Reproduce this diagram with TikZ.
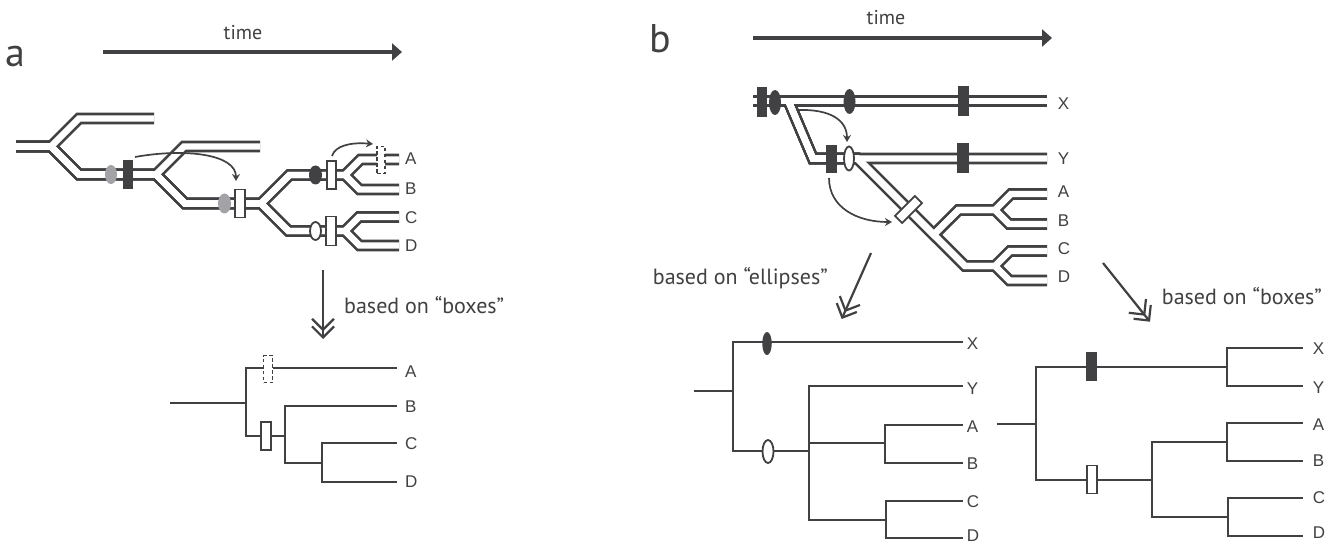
\documentclass[tikz,border=0pt]{standalone}
\usepackage{fontspec}
\setmainfont{PT Sans}
\newfontfamily\leaffont{Liberation Sans}
\usetikzlibrary{arrows.meta,shapes.geometric}
\definecolor{ink}{RGB}{65,65,67}
\definecolor{softgrey}{RGB}{163,163,167}

\begin{document}
\begin{tikzpicture}[x=1pt,y=-1pt,
  tubeout/.style={draw=ink,line width=11.8pt,line join=miter,line cap=butt},
  tubein/.style={draw=white,line width=6.4pt,line join=miter,line cap=butt},
  tree/.style={draw=ink,line width=2pt,line join=miter},
  timearrow/.style={draw=ink,line width=4pt,-{Triangle[length=10pt,width=17pt]}},
  maparrow/.style={draw=ink,line width=2.2pt,
    -{Straight Barb[length=11pt,width=22pt,sep=-6pt]Straight Barb[length=11pt,width=22pt]}},
  jump/.style={draw=ink,line width=1.7pt,-{Stealth[length=7pt,width=8pt]}},
  panelname/.style={text=ink,inner sep=0pt,font=\fontsize{40}{44}\selectfont},
  timetext/.style={text=ink,inner sep=0pt,font=\fontsize{20}{22}\selectfont,anchor=base},
  note/.style={text=ink,inner sep=0pt,font=\fontsize{22}{24}\selectfont,anchor=base west},
  leaf/.style={text=ink,inner sep=0pt,font=\leaffont\fontsize{17}{19}\selectfont,anchor=west},
  darkbox/.style={rectangle,fill=ink,inner sep=0pt},
  openbox/.style={rectangle,draw=ink,fill=white,line width=1.8pt,inner sep=0pt},
  lostbox/.style={rectangle,draw=ink,fill=white,line width=1.8pt,inner sep=0pt,dash pattern=on 3.5pt off 2.5pt},
  darkoval/.style={ellipse,fill=ink,inner sep=0pt},
  greyoval/.style={ellipse,fill=softgrey,inner sep=0pt},
  openoval/.style={ellipse,draw=ink,fill=white,line width=1.8pt,inner sep=0pt},
]
\useasboundingbox[fill=white] (0,0) rectangle (1338,545);

%=============== panel a ===============
\node[panelname,anchor=base west] (pa) at (5,67) {a};
\node[timetext] (timea) at (243,40) {time};
\coordinate (ta0) at (103,52);
\coordinate (ta1) at (402,52);
\draw[timearrow] (ta0) -- (ta1);

% gene lineages inside the species tubes
\coordinate (a0) at (16,146.5);
\coordinate (a1) at (51,146.5);
\coordinate (a1u) at (79,118.5);
\coordinate (a1e) at (154,118.5);
\coordinate (a1d) at (79,174.5);
\coordinate (a2) at (156,174.5);
\coordinate (a2u) at (184,146.5);
\coordinate (a2e) at (260,146.5);
\coordinate (a2d) at (185,203.5);
\coordinate (a3) at (261,203.5);
\coordinate (a3u) at (289.5,175);
\coordinate (a4) at (345,175);
\coordinate (a4u) at (360.5,159.5);
\coordinate (aA) at (399,159.5);
\coordinate (a4d) at (359.5,189.5);
\coordinate (aB) at (399,189.5);
\coordinate (a3d) at (288.5,231);
\coordinate (a5) at (345,231);
\coordinate (a5u) at (359,217);
\coordinate (aC) at (399,217);
\coordinate (a5d) at (359.5,245.5);
\coordinate (aD) at (399,245.5);

\foreach \s in {tubeout,tubein}{
  \draw[\s] (a0)--(a1)--(a1u)--(a1e);
  \draw[\s] (a0)--(a1)--(a1d)--(a2)--(a2u)--(a2e);
  \draw[\s] (a0)--(a1)--(a1d)--(a2)--(a2d)--(a3)--(a3u)--(a4)--(a4u)--(aA);
  \draw[\s] (a0)--(a1)--(a1d)--(a2)--(a2d)--(a3)--(a3u)--(a4)--(a4d)--(aB);
  \draw[\s] (a0)--(a1)--(a1d)--(a2)--(a2d)--(a3)--(a3d)--(a5)--(a5u)--(aC);
  \draw[\s] (a0)--(a1)--(a1d)--(a2)--(a2d)--(a3)--(a3d)--(a5)--(a5d)--(aD);
}

\node[greyoval,minimum width=12pt,minimum height=19pt] (ga1) at (111,174.5) {};
\node[darkbox,minimum width=10pt,minimum height=29pt] (da1) at (128,174.5) {};
\node[greyoval,minimum width=13pt,minimum height=20pt] (ga2) at (224.5,203.5) {};
\node[openbox,minimum width=10pt,minimum height=28pt] (wa1) at (240,203.5) {};
\node[darkoval,minimum width=13pt,minimum height=19pt] (da2) at (315.5,175) {};
\node[openbox,minimum width=9pt,minimum height=28pt] (wa2) at (331.5,175) {};
\node[lostbox,minimum width=8pt,minimum height=27pt] (xa1) at (381,160) {};
\node[openoval,minimum width=11pt,minimum height=18pt] (oa1) at (315.5,231) {};
\node[openbox,minimum width=10pt,minimum height=29pt] (wa3) at (331,231) {};

\coordinate (j1s) at (135,157);
\coordinate (j1e) at (236,181);
\draw[jump] (j1s) .. controls (185,148) and (236,154) .. (j1e);
\coordinate (j2s) at (332,156);
\coordinate (j2e) at (373,144);
\draw[jump] (j2s) .. controls (335,146) and (350,142) .. (j2e);

\node[leaf] (LaA) at (405,159) {A};
\node[leaf] (LaB) at (405,189) {B};
\node[leaf] (LaC) at (405,217.5) {C};
\node[leaf] (LaD) at (405,246) {D};

% summary arrow
\coordinate (ma0) at (323,270);
\coordinate (ma1) at (323,339);
\draw[maparrow] (ma0) -- (ma1);
\node[note] (na) at (344,313) {based on “boxes”};

% resulting tree
\coordinate (ar) at (170,402.7);
\coordinate (an1) at (246,402.7);
\coordinate (an2) at (285,436);
\coordinate (an3) at (322,463);
\coordinate (anA) at (397,368);
\coordinate (anB) at (397,406);
\coordinate (anC) at (397,443);
\coordinate (anD) at (397,482);
\draw[tree] (ar) -- (an1);
\draw[tree] (an1) |- (anA);
\draw[tree] (an1) |- (an2);
\draw[tree] (an2) |- (anB);
\draw[tree] (an2) |- (an3);
\draw[tree] (an3) |- (anC);
\draw[tree] (an3) |- (anD);
\node[lostbox,minimum width=9pt,minimum height=27pt] (xa2) at (268,369) {};
\node[openbox,minimum width=10pt,minimum height=28pt] (wa4) at (266,436) {};
\node[leaf] (LtA) at (405,372) {A};
\node[leaf] (LtB) at (405,407) {B};
\node[leaf] (LtC) at (405,444) {C};
\node[leaf] (LtD) at (405,481.5) {D};

%=============== panel b ===============
\node[panelname,anchor=base west] (pb) at (649,53) {b};
\node[timetext] (timeb) at (886,25) {time};
\coordinate (tb0) at (753,38);
\coordinate (tb1) at (1052,38);
\draw[timearrow] (tb0) -- (tb1);

\coordinate (b0) at (753,101.3);
\coordinate (bX) at (1047,101.3);
\coordinate (bs) at (788.6,101.3);
\coordinate (bsy) at (812.9,158.5);
\coordinate (bY) at (1047,158.5);
\coordinate (b1) at (857.5,158.5);
\coordinate (b2) at (933.7,234.7);
\coordinate (b2u) at (958.5,210);
\coordinate (b3) at (995,210);
\coordinate (b3u) at (1011,194);
\coordinate (bA) at (1047,194);
\coordinate (b3d) at (1009,224);
\coordinate (bB) at (1047,224);
\coordinate (b2d) at (965,266);
\coordinate (b4) at (995,266);
\coordinate (b4u) at (1010,251);
\coordinate (bC) at (1047,251);
\coordinate (b4d) at (1009.5,280.5);
\coordinate (bD) at (1047,280.5);

\foreach \s in {tubeout,tubein}{
  \draw[\s] (b0)--(bX);
  \draw[\s] (bs)--(bsy)--(bY);
  \draw[\s] (bs)--(bsy)--(b1)--(b2)--(b2u)--(b3)--(b3u)--(bA);
  \draw[\s] (bs)--(bsy)--(b1)--(b2)--(b2u)--(b3)--(b3d)--(bB);
  \draw[\s] (bs)--(bsy)--(b1)--(b2d)--(b4)--(b4u)--(bC);
  \draw[\s] (bs)--(bsy)--(b1)--(b2d)--(b4)--(b4d)--(bD);
}

\node[darkbox,minimum width=10pt,minimum height=30pt] (db1) at (762,102) {};
\node[darkoval,minimum width=12pt,minimum height=25pt] (eb1) at (775,102.5) {};
\node[darkoval,minimum width=12pt,minimum height=25pt] (eb2) at (849.5,101.5) {};
\node[darkbox,minimum width=11pt,minimum height=30pt] (db2) at (963,101.5) {};
\node[darkbox,minimum width=11pt,minimum height=28pt] (db3) at (831.5,159) {};
\node[openoval,minimum width=10pt,minimum height=24pt] (ob1) at (849,158.5) {};
\node[darkbox,minimum width=12pt,minimum height=30pt] (db4) at (963,158.5) {};
\node[openbox,rotate=-45,minimum width=10pt,minimum height=28pt] (wb1) at (908.5,209.5) {};

\coordinate (j3s) at (798,110);
\coordinate (j3e) at (847,142);
\draw[jump] (j3s) .. controls (830,109) and (847,120) .. (j3e);
\coordinate (j4s) at (829,178);
\coordinate (j4e) at (892,222);
\draw[jump] (j4s) .. controls (829,208) and (858,222) .. (j4e);

\node[leaf] (LbX) at (1057.7,103.7) {X};
\node[leaf] (LbY) at (1057.7,158.3) {Y};
\node[leaf] (LbA) at (1057.7,191.7) {A};
\node[leaf] (LbB) at (1057.7,221) {B};
\node[leaf] (LbC) at (1057.7,248.8) {C};
\node[leaf] (LbD) at (1057.7,276.7) {D};

% summary arrows
\coordinate (me0) at (871,253);
\coordinate (me1) at (841.7,319);
\draw[maparrow] (me0) -- (me1);
\node[note] (ne) at (652.7,284) {based on “ellipses”};
\coordinate (mb0) at (1103,263);
\coordinate (mb1) at (1150,321.7);
\draw[maparrow] (mb0) -- (mb1);
\node[note] (nb) at (1161.7,305) {based on “boxes”};

% tree from the ellipses
\coordinate (er) at (694,390.7);
\coordinate (en1) at (733.3,390.7);
\coordinate (en2) at (809.3,451);
\coordinate (en3) at (885,444);
\coordinate (en4) at (886,519.5);
\coordinate (eX) at (962.7,342.3);
\coordinate (eY) at (962.7,386);
\coordinate (eA) at (962.7,425);
\coordinate (eB) at (962.7,463.3);
\coordinate (eC) at (962.7,500.7);
\coordinate (eD) at (962.7,538.3);
\draw[tree] (er) -- (en1);
\draw[tree] (en1) |- (eX);
\draw[tree] (en1) |- (en2);
\draw[tree] (en2) |- (eY);
\draw[tree] (en2) |- (en4);
\draw[tree] (en2 |- 0,443.3) -- (en3 |- 0,443.3);
\draw[tree] (en3) |- (eA);
\draw[tree] (en3) |- (eB);
\draw[tree] (en4) |- (eC);
\draw[tree] (en4) |- (eD);
\node[darkoval,minimum width=9.5pt,minimum height=23pt] (eb3) at (767,343.5) {};
\node[openoval,minimum width=11pt,minimum height=23pt] (ob2) at (768,451.5) {};
\node[leaf] (LeX) at (966.7,343.7) {X};
\node[leaf] (LeY) at (966.7,389) {Y};
\node[leaf] (LeA) at (966.7,427) {A};
\node[leaf] (LeB) at (966.7,463.3) {B};
\node[leaf] (LeC) at (966.7,501.7) {C};
\node[leaf] (LeD) at (966.7,535.5) {D};

% tree from the boxes
\coordinate (cr) at (996.7,423.5);
\coordinate (cn1) at (1035.7,423.5);
\coordinate (cn2) at (1227.3,366.5);
\coordinate (cn3) at (1151.7,479.5);
\coordinate (cn4) at (1227.3,441.7);
\coordinate (cn5) at (1228,516.7);
\coordinate (cX) at (1302.7,348.3);
\coordinate (cY) at (1302.7,386);
\coordinate (cA) at (1302.7,422.7);
\coordinate (cB) at (1302.7,460.7);
\coordinate (cC) at (1302.7,497.7);
\coordinate (cD) at (1302.7,535.7);
\draw[tree] (cr) -- (cn1);
\draw[tree] (cn1) |- (cn2);
\draw[tree] (cn1) |- (cn3);
\draw[tree] (cn2) |- (cX);
\draw[tree] (cn2) |- (cY);
\draw[tree] (cn3) |- (cn4);
\draw[tree] (cn3) |- (cn5);
\draw[tree] (cn4) |- (cA);
\draw[tree] (cn4) |- (cB);
\draw[tree] (cn5) |- (cC);
\draw[tree] (cn5) |- (cD);
\node[darkbox,minimum width=11pt,minimum height=29pt] (db5) at (1091,366) {};
\node[openbox,minimum width=9.5pt,minimum height=28pt] (wb2) at (1092,479.5) {};
\node[leaf] (LcX) at (1312.7,348.7) {X};
\node[leaf] (LcY) at (1312.7,388) {Y};
\node[leaf] (LcA) at (1312.7,425) {A};
\node[leaf] (LcB) at (1312.7,460.5) {B};
\node[leaf] (LcC) at (1312.7,497.5) {C};
\node[leaf] (LcD) at (1312.7,533) {D};
\end{tikzpicture}
\end{document}
